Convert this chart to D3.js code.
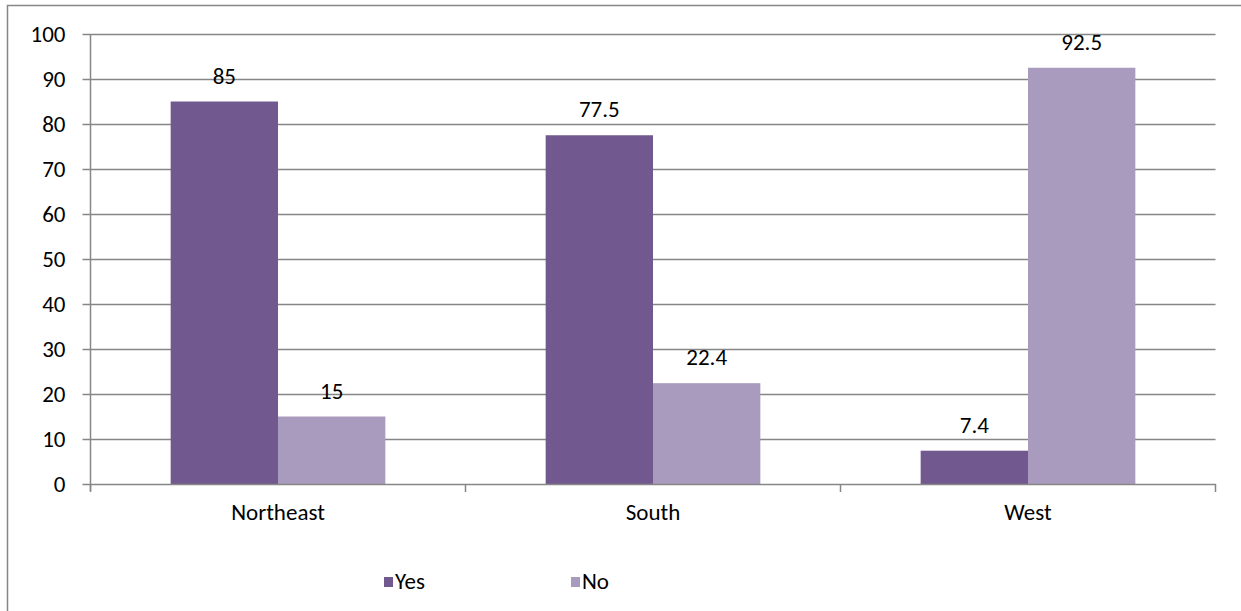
<!DOCTYPE html>
<html>
<head>
<meta charset="utf-8">
<script src="https://cdn.jsdelivr.net/npm/d3@7"></script>
<style>
  html, body { margin: 0; padding: 0; background: #fff; }
  svg { display: block; }
  text { font-family: Carlito, Calibri, Lato, "Open Sans", sans-serif; fill: #000; }
</style>
</head>
<body>
<svg id="chart" width="1241" height="611"></svg>
<script>
const regions = ["Northeast", "South", "West"];
const seriesNames = ["Yes", "No"];
const yesValues = [85, 77.5, 7.4];
const noValues = [15, 22.4, 92.5];
const yTicks = [0, 10, 20, 30, 40, 50, 60, 70, 80, 90, 100];
const colors = ["#71588f", "#a99bbd"];
const FONT = "23px";

const svg = d3.select("#chart");
const W = 1241, H = 611;
const plot = { left: 90.5, right: 1215.5, top: 34, bottom: 484 };

// outer chart frame (left and top edges fall inside the window)
svg.append("path")
  .attr("d", `M7.5,${H} V5.5 H${W}`)
  .attr("fill", "none").attr("stroke", "#868686").attr("stroke-width", 1.5);

const x0 = d3.scaleBand().domain(regions).range([plot.left, plot.right]).paddingInner(0).paddingOuter(0);
const x1 = d3.scaleBand().domain(seriesNames).range([0, x0.bandwidth()]).paddingInner(0).paddingOuter(0.7467);
const y = d3.scaleLinear().domain([0, 100]).range([plot.bottom, plot.top]);

// gridlines
svg.append("g").selectAll("line").data(yTicks.filter(d => d > 0)).join("line")
  .attr("x1", plot.left).attr("x2", plot.right)
  .attr("y1", d => Math.round(y(d)) + 0.5).attr("y2", d => Math.round(y(d)) + 0.5)
  .attr("stroke", "#868686").attr("stroke-width", 1.5);

const rows = regions.map((r, i) => ({ region: r, values: [yesValues[i], noValues[i]] }));

// bars
const groups = svg.append("g").selectAll("g").data(rows).join("g")
  .attr("transform", d => `translate(${x0(d.region)},0)`);
groups.selectAll("rect").data(d => d.values.map((v, k) => ({ key: seriesNames[k], v, k }))).join("rect")
  .attr("x", d => x1(d.key))
  .attr("width", x1.bandwidth())
  .attr("y", d => y(d.v))
  .attr("height", d => y(0) - y(d.v))
  .attr("fill", d => colors[d.k]);

// value labels
groups.selectAll("text").data(d => d.values.map((v, k) => ({ key: seriesNames[k], v, k }))).join("text")
  .attr("x", d => x1(d.key) + x1.bandwidth() / 2)
  .attr("y", d => y(d.v) - 18)
  .attr("text-anchor", "middle")
  .style("font-size", FONT)
  .text(d => d.v);

// y axis
const yAxis = svg.append("g").attr("transform", `translate(${plot.left},0)`)
  .call(d3.axisLeft(y).tickValues(yTicks).tickSize(8).tickPadding(17).tickFormat(d3.format("d")));
yAxis.select(".domain").attr("stroke", "#868686").attr("stroke-width", 1.5).attr("d", `M0,${plot.top}V${plot.bottom + 7}`);
yAxis.selectAll(".tick line").attr("stroke", "#868686").attr("stroke-width", 1.5);
yAxis.selectAll(".tick text").style("font-size", FONT).attr("fill", "#000");

// x axis
const xAxis = svg.append("g").attr("transform", `translate(0,${plot.bottom})`)
  .call(d3.axisBottom(x0).tickSize(0).tickPadding(20));
xAxis.select(".domain").attr("stroke", "#868686").attr("stroke-width", 1.5);
xAxis.selectAll(".tick text").style("font-size", FONT).attr("fill", "#000");
// category boundary tick marks
svg.append("g").selectAll("line")
  .data(regions.map(r => x0(r)).concat([x0(regions[regions.length - 1]) + x0.bandwidth()]))
  .join("line")
  .attr("x1", d => d).attr("x2", d => d)
  .attr("y1", plot.bottom).attr("y2", plot.bottom + 8)
  .attr("stroke", "#868686").attr("stroke-width", 1.5);

// legend
const legendX = [384, 571];
const legend = svg.append("g").selectAll("g").data(seriesNames).join("g")
  .attr("transform", (d, i) => `translate(${legendX[i]},577)`);
legend.append("rect").attr("width", 9).attr("height", 10).attr("fill", (d, i) => colors[i]);
legend.append("text").attr("x", 11).attr("y", 12).style("font-size", FONT).text(d => d);
</script>
</body>
</html>
